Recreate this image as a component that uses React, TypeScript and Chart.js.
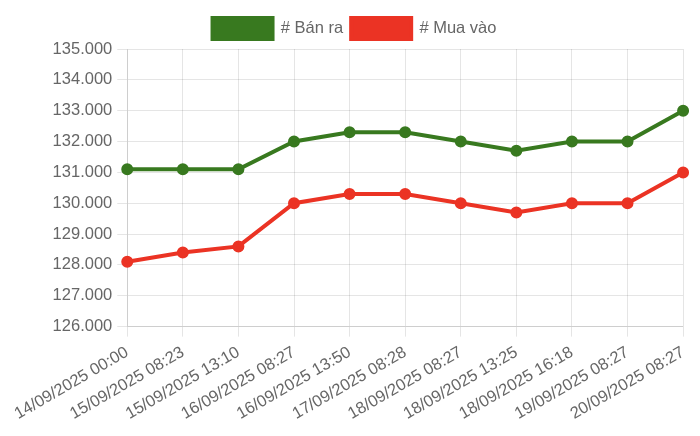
import { useEffect, useRef } from "react";
import { Chart, registerables } from "chart.js";

Chart.register(...registerables);

const LABELS = [
  "14/09/2025 00:00",
  "15/09/2025 08:23",
  "15/09/2025 13:10",
  "16/09/2025 08:27",
  "16/09/2025 13:50",
  "17/09/2025 08:28",
  "18/09/2025 08:27",
  "18/09/2025 13:25",
  "18/09/2025 16:18",
  "19/09/2025 08:27",
  "20/09/2025 08:27",
];

const BAN_RA = [131100, 131100, 131100, 132000, 132300, 132300, 132000, 131700, 132000, 132000, 133000];
const MUA_VAO = [128100, 128400, 128600, 130000, 130300, 130300, 130000, 129700, 130000, 130000, 131000];

const Y_MIN = 126000;
const Y_MAX = 135000;
const Y_STEP = 1000;

const GREEN = "#38791f";
const RED = "#eb3324";

// 135000 -> "135.000"
function fmt(v: number): string {
  return String(Math.round(v)).replace(/\B(?=(\d{3})+(?!\d))/g, ".");
}

export default function App() {
  const canvasRef = useRef<HTMLCanvasElement>(null);

  useEffect(() => {
    const canvas = canvasRef.current;
    if (!canvas) return;
    Chart.defaults.font.family = "'Liberation Sans', Arial, Helvetica, sans-serif";
    Chart.defaults.font.size = 16.5;
    Chart.defaults.color = "#666";
    const chart = new Chart(canvas, {
      type: "line",
      data: {
        labels: LABELS,
        datasets: [
          {
            label: "# Bán ra",
            data: BAN_RA,
            borderColor: GREEN,
            backgroundColor: GREEN,
            borderWidth: 4,
            pointRadius: 4,
            tension: 0,
            fill: false,
          },
          {
            label: "# Mua vào",
            data: MUA_VAO,
            borderColor: RED,
            backgroundColor: RED,
            borderWidth: 4,
            pointRadius: 4,
            tension: 0,
            fill: false,
          },
        ],
      },
      options: {
        responsive: true,
        maintainAspectRatio: false,
        animation: false,
        layout: { padding: { top: 2 } },
        plugins: {
          legend: {
            labels: { boxWidth: 60, boxHeight: 21, padding: 8 },
          },
          tooltip: { enabled: false },
        },
        scales: {
          x: {
            grid: { color: "rgba(0,0,0,0.1)", tickLength: 10 },
            ticks: { minRotation: 30, maxRotation: 30, padding: 6 },
          },
          y: {
            min: Y_MIN,
            max: Y_MAX,
            grid: { color: "rgba(0,0,0,0.1)", tickLength: 10 },
            ticks: {
              stepSize: Y_STEP,
              padding: 5,
              callback: (v) => fmt(Number(v)),
            },
          },
        },
      },
    });
    return () => chart.destroy();
  }, []);

  return (
    <div style={{ position: "relative", width: 689, height: 422, marginLeft: 2 }}>
      <canvas ref={canvasRef} />
    </div>
  );
}
